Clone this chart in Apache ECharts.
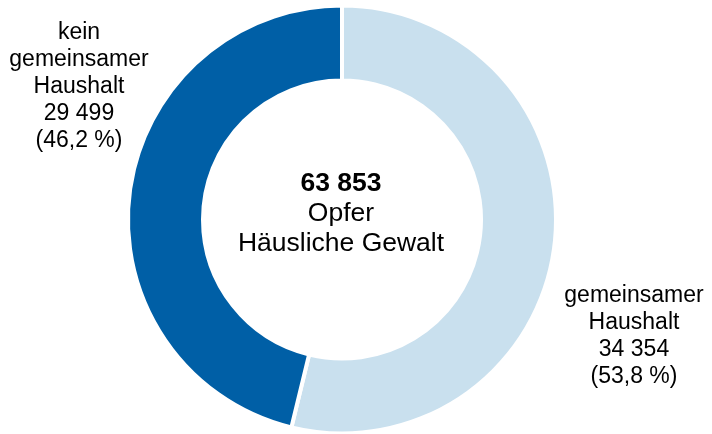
<!DOCTYPE html>
<html>
<head>
<meta charset="utf-8">
<script src="https://cdn.jsdelivr.net/npm/echarts@6/dist/echarts.min.js"></script>
<style>
  html, body { margin: 0; padding: 0; background: #fff; }
  #chart { width: 712px; height: 434px; }
</style>
</head>
<body>
<div id="chart"></div>
<script>
// Victims of domestic violence by household situation
const categories = ['gemeinsamer\nHaushalt', 'kein\ngemeinsamer\nHaushalt'];
const victims = [34354, 29499];
const sliceColors = ['#c9e0ee', '#005fa6'];
const centerCaption = ['Opfer', 'Häusliche Gewalt'];

const FONT = '"Liberation Sans", Arial, sans-serif';
const total = victims.reduce((a, b) => a + b, 0);

// German style: space groups, comma decimals
const fmtInt = v => String(v).replace(/\B(?=(\d{3})+(?!\d))/g, ' ');
const fmtPct = v => (v * 100 / total).toFixed(1).replace('.', ',') + ' %';

const labelSpots = [
  { x: 634, y: 336 },
  { x: 79, y: 87 }
];

const chart = echarts.init(document.getElementById('chart'), null, { renderer: 'canvas' });
chart.setOption({
  animation: false,
  backgroundColor: '#ffffff',
  series: [{
    type: 'pie',
    center: [342, 219.5],
    radius: [139, 214],
    startAngle: 90,
    clockwise: true,
    avoidLabelOverlap: false,
    itemStyle: { borderColor: '#ffffff', borderWidth: 4 },
    emphasis: { disabled: true },
    label: {
      show: true,
      position: 'outside',
      fontFamily: FONT,
      fontSize: 23,
      lineHeight: 27,
      color: '#000',
      align: 'center',
      formatter: p => p.name + '\n' + fmtInt(p.value) + '\n(' + fmtPct(p.value) + ')'
    },
    labelLine: { show: false },
    labelLayout: p => ({
      x: labelSpots[p.dataIndex].x,
      y: labelSpots[p.dataIndex].y,
      align: 'center',
      verticalAlign: 'middle'
    }),
    data: categories.map((c, i) => ({
      name: c,
      value: victims[i],
      itemStyle: { color: sliceColors[i] }
    }))
  }],
  graphic: [{
    type: 'text',
    x: 341,
    y: 214,
    style: {
      text: '{b|' + fmtInt(total) + '}\n{n|' + centerCaption[0] + '}\n{n|' + centerCaption[1] + '}',
      align: 'center',
      verticalAlign: 'middle',
      fill: '#000',
      rich: {
        b: { fontFamily: FONT, fontSize: 26.5, fontWeight: 'bold', lineHeight: 30, align: 'center' },
        n: { fontFamily: FONT, fontSize: 26.5, lineHeight: 30, align: 'center' }
      }
    }
  }]
});
</script>
</body>
</html>
